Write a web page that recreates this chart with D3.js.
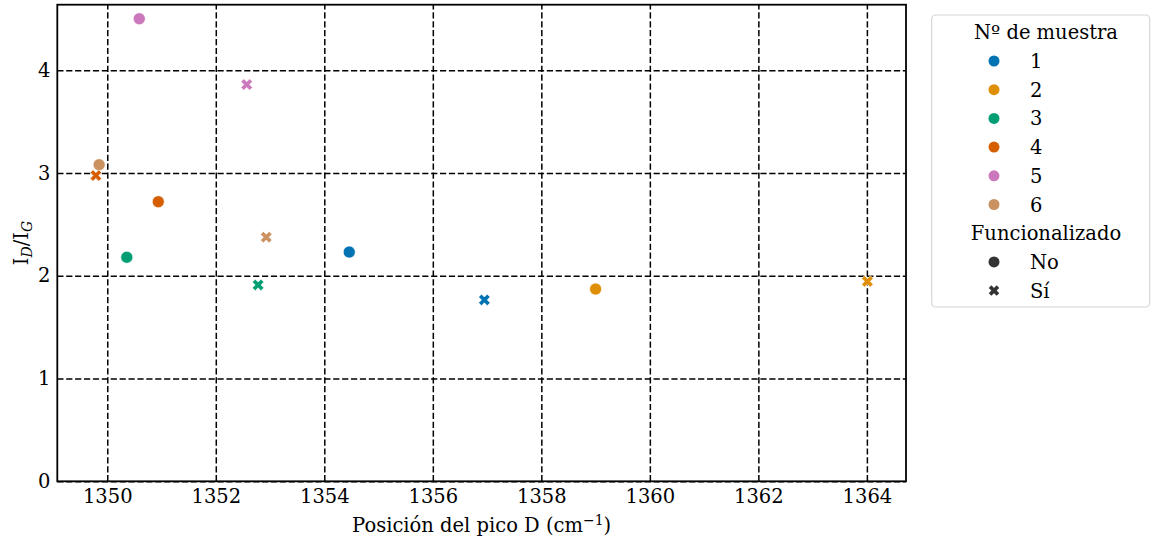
<!DOCTYPE html>
<html>
<head>
<meta charset="utf-8">
<script src="https://cdn.jsdelivr.net/npm/d3@7"></script>
<style>
  body { margin: 0; background: #fff; }
  text { font-family: "DejaVu Serif", serif; fill: #000; }
</style>
</head>
<body>
<svg id="chart" width="1153" height="539"></svg>
<script>
// Samples and their colours
const samples = ["1", "2", "3", "4", "5", "6"];
const sampleColors = ["#0173b2", "#de8f05", "#029e73", "#d55e00", "#cc78bc", "#ca9161"];
const treatments = ["No", "Sí"];

// D-peak position (cm^-1) and I_D/I_G ratio, untreated samples
const posNo = [1354.46, 1359.0, 1350.36, 1350.94, 1350.59, 1349.85];
const ratioNo = [2.23, 1.87, 2.18, 2.72, 4.50, 3.08];
// Same samples after functionalization
const posSi = [1356.95, 1364.01, 1352.78, 1349.79, 1352.57, 1352.93];
const ratioSi = [1.765, 1.945, 1.91, 2.975, 3.86, 2.375];

const xTicks = [1350, 1352, 1354, 1356, 1358, 1360, 1362, 1364];
const yTicks = [0, 1, 2, 3, 4];

const points = [];
samples.forEach((s, i) => points.push({ sample: s, treated: "No", x: posNo[i], y: ratioNo[i] }));
samples.forEach((s, i) => points.push({ sample: s, treated: "Sí", x: posSi[i], y: ratioSi[i] }));

const svg = d3.select("#chart");
const plot = { left: 57.3, right: 906, top: 4.7, bottom: 481.3 };

// Autoscale with a 5% margin, y starts at zero
const xExt = d3.extent(points, d => d.x);
const xPad = (xExt[1] - xExt[0]) * 0.05;
const yExt = d3.extent(points, d => d.y);
const yPad = (yExt[1] - yExt[0]) * 0.05;

const x = d3.scaleLinear().domain([xExt[0] - xPad, xExt[1] + xPad]).range([plot.left, plot.right]);
const y = d3.scaleLinear().domain([0, yExt[1] + yPad]).range([plot.bottom, plot.top]);
const color = d3.scaleOrdinal().domain(samples).range(sampleColors);

const pw = plot.right - plot.left, ph = plot.bottom - plot.top;

// Axes with dashed grid lines spanning the plot
const xAxis = svg.append("g")
  .attr("transform", `translate(0,${plot.bottom})`)
  .call(d3.axisBottom(x).tickValues(xTicks).tickFormat(d3.format("d"))
    .tickSizeInner(-ph).tickSizeOuter(0).tickPadding(7.5));
const yAxis = svg.append("g")
  .attr("transform", `translate(${plot.left},0)`)
  .call(d3.axisLeft(y).tickValues(yTicks).tickFormat(d3.format("d"))
    .tickSizeInner(-pw).tickSizeOuter(0).tickPadding(7));

[xAxis, yAxis].forEach(g => {
  g.select(".domain").remove();
  g.selectAll(".tick line")
    .attr("stroke", "#000").attr("stroke-width", 1.5)
    .attr("stroke-dasharray", "6.2,2.7");
  g.selectAll(".tick text")
    .style("font-family", "DejaVu Serif").style("font-size", "19.5px").attr("fill", "#000");
});

// Markers
const xShape = s => {
  const h = s / 2, q = s / 4;
  return `M${-q},${-h}L0,${-q}L${q},${-h}L${h},${-q}L${q},0L${h},${q}L${q},${h}L0,${q}L${-q},${h}L${-h},${q}L${-q},0L${-h},${-q}Z`;
};

const marks = svg.append("g");
points.forEach(d => {
  if (d.treated === "No") {
    marks.append("circle")
      .attr("cx", x(d.x)).attr("cy", y(d.y)).attr("r", 6)
      .attr("fill", color(d.sample)).attr("stroke", "#fff").attr("stroke-width", 0.6);
  } else {
    marks.append("path")
      .attr("d", xShape(11.5))
      .attr("transform", `translate(${x(d.x)},${y(d.y)})`)
      .attr("fill", color(d.sample)).attr("stroke", "#fff").attr("stroke-width", 0.6);
  }
});

// Frame
svg.append("rect")
  .attr("x", plot.left).attr("y", plot.top).attr("width", pw).attr("height", ph)
  .attr("fill", "none").attr("stroke", "#000").attr("stroke-width", 1.8);

// Axis labels
const xl = svg.append("text")
  .attr("x", (plot.left + plot.right) / 2).attr("y", 532)
  .attr("text-anchor", "middle").style("font-size", "19.5px");
xl.append("tspan").text("Posición del pico D (cm");
xl.append("tspan").attr("dy", -7).style("font-size", "14px").text("−1");
xl.append("tspan").attr("dy", 7).text(")");

const yl = svg.append("text")
  .attr("transform", `translate(28,${(plot.top + plot.bottom) / 2}) rotate(-90)`)
  .attr("text-anchor", "middle").style("font-size", "19.5px");
yl.append("tspan").text("I");
yl.append("tspan").attr("dy", 4).style("font-size", "14px").style("font-style", "italic").text("D");
yl.append("tspan").attr("dy", -4).text("/I");
yl.append("tspan").attr("dy", 4).style("font-size", "14px").style("font-style", "italic").text("G");

// Legend
const lg = svg.append("g");
lg.append("rect")
  .attr("x", 931.7).attr("y", 15).attr("width", 218).attr("height", 292).attr("rx", 4)
  .attr("fill", "#fff").attr("stroke", "#d6d6d6").attr("stroke-width", 1.2);

const rowY = i => 61 + i * 28.7;
const markX = 994, textX = 1030;

lg.append("text").attr("x", 1046).attr("y", 39).attr("text-anchor", "middle")
  .style("font-size", "19.5px").text("Nº de muestra");
samples.forEach((s, i) => {
  lg.append("circle").attr("cx", markX).attr("cy", rowY(i)).attr("r", 5.5).attr("fill", color(s));
  lg.append("text").attr("x", textX).attr("y", rowY(i) + 7).style("font-size", "19.5px").text(s);
});
lg.append("text").attr("x", 1046).attr("y", rowY(6) + 7).attr("text-anchor", "middle")
  .style("font-size", "19.5px").text("Funcionalizado");
treatments.forEach((t, j) => {
  const cy = rowY(7 + j);
  if (t === "No") {
    lg.append("circle").attr("cx", markX).attr("cy", cy).attr("r", 5.5).attr("fill", "#333");
  } else {
    lg.append("path").attr("d", xShape(10.5)).attr("transform", `translate(${markX},${cy})`).attr("fill", "#333");
  }
  lg.append("text").attr("x", textX).attr("y", cy + 7).style("font-size", "19.5px").text(t);
});
</script>
</body>
</html>
